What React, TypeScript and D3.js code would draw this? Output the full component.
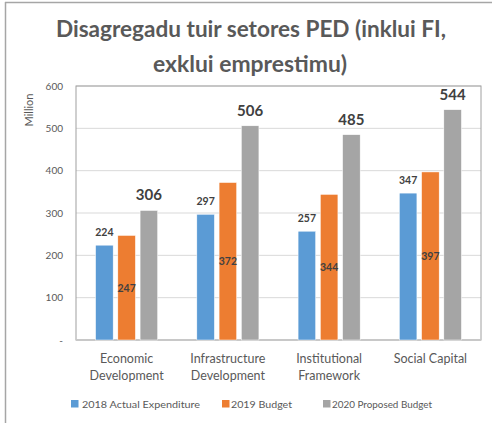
import React from "react";
import * as d3 from "d3";

const categories = [
  ["Economic", "Development"],
  ["Infrastructure", "Development"],
  ["Institutional", "Framework"],
  ["Social Capital"],
];
const categoryKeys = ["Economic Development", "Infrastructure Development", "Institutional Framework", "Social Capital"];
const seriesNames = ["2018 Actual Expenditure", "2019 Budget", "2020 Proposed Budget"];
const actual2018 = [224, 297, 257, 347];
const budget2019 = [247, 372, 344, 397];
const proposed2020 = [306, 506, 485, 544];
const yTicks = [0, 100, 200, 300, 400, 500, 600];
const colors = ["#5B9BD5", "#ED7D31", "#A5A5A5"];

const FONT = "Lato, 'Open Sans', sans-serif";

export default function App() {
  const W = 492, H = 423;
  const left = 76, right = 481, top = 86, bottom = 340;
  const y = d3.scaleLinear().domain([0, 600]).range([bottom, top]);
  const x0 = d3.scaleBand<string>().domain(categoryKeys).range([left, right]).paddingInner(0).paddingOuter(0);
  const x1 = d3.scaleBand<string>().domain(seriesNames).range([0, x0.bandwidth()]).paddingInner(0.21).paddingOuter(0.88);
  const series = [actual2018, budget2019, proposed2020];

  return (
    <svg width={W} height={H} style={{ position: "absolute", left: 0, top: 0, background: "#fff" }} fontFamily={FONT}>
      <rect x={0} y={0} width={W} height={H} fill="#fff" />
      {/* outer frame */}
      <line x1={5.5} y1={2} x2={5.5} y2={H} stroke="#a6a6a6" strokeWidth={1.5} />
      <line x1={5} y1={2.5} x2={W} y2={2.5} stroke="#a6a6a6" strokeWidth={1.5} />
      {/* title */}
      <text x={251} y={37} textAnchor="middle" fontSize={23} fontWeight={700} fill="#595959" textLength={390} lengthAdjust="spacingAndGlyphs">
        Disagregadu tuir setores PED (inklui FI,
      </text>
      <text x={250} y={72} textAnchor="middle" fontSize={23} fontWeight={700} fill="#595959" textLength={194} lengthAdjust="spacingAndGlyphs">
        exklui emprestimu)
      </text>
      {/* gridlines */}
      {yTicks.slice(1).map((t) => (
        <line key={t} x1={left} x2={right} y1={y(t)} y2={y(t)} stroke="#d9d9d9" strokeWidth={1} />
      ))}
      {/* plot border */}
      <rect x={left} y={top} width={right - left} height={bottom - top} fill="none" stroke="#a0a0a0" strokeWidth={1} />
      <line x1={left} x2={right} y1={bottom} y2={bottom} stroke="#c8c8c8" strokeWidth={2} />
      {/* y tick labels */}
      {yTicks.map((t) => (
        <text key={t} x={63} y={y(t) + 3.5} textAnchor="end" fontSize={10} fill="#595959">
          {t === 0 ? "-" : t}
        </text>
      ))}
      <text transform={`translate(33,110) rotate(-90)`} textAnchor="middle" fontSize={11} fill="#595959">
        Million
      </text>
      {/* bars */}
      {categoryKeys.map((c, ci) => (
        <g key={c} transform={`translate(${x0(c)},0)`}>
          {series.map((vals, si) => {
            const bx = x1(seriesNames[si])!;
            const bw = x1.bandwidth();
            const v = vals[ci];
            return (
              <g key={si}>
                <rect x={bx} y={y(v)} width={bw} height={bottom - y(v)} fill={colors[si]} stroke="#fff" strokeWidth={0.5} />
                {si === 0 && (
                  <text x={bx + bw / 2} y={y(v) - 9} textAnchor="middle" fontSize={10.5} fontWeight={700} fill="#404040">
                    {v}
                  </text>
                )}
                {si === 1 && (
                  <text x={bx + bw / 2} y={(y(v) + bottom) / 2 + 4} textAnchor="middle" fontSize={10.5} fontWeight={700} fill="#404040">
                    {v}
                  </text>
                )}
                {si === 2 && (
                  <text x={bx + bw / 2} y={y(v) - 10} textAnchor="middle" fontSize={15} fontWeight={700} fill="#404040">
                    {v}
                  </text>
                )}
              </g>
            );
          })}
          {categories[ci].map((line, li) => (
            <text key={li} x={x0.bandwidth() / 2} y={363 + li * 16.5} textAnchor="middle" fontSize={12.5} fill="#595959">
              {line}
            </text>
          ))}
        </g>
      ))}
      {/* legend */}
      {[
        { x: 71, tx: 82, w: 118 },
        { x: 222, tx: 231, w: 61 },
        { x: 323, tx: 332, w: 100 },
      ].map((p, i) => (
        <g key={i}>
          <rect x={p.x} y={400} width={7.5} height={7.5} fill={colors[i]} />
          <text x={p.tx} y={407.5} fontSize={10} fill="#595959" textLength={p.w} lengthAdjust="spacingAndGlyphs">
            {seriesNames[i]}
          </text>
        </g>
      ))}
    </svg>
  );
}
